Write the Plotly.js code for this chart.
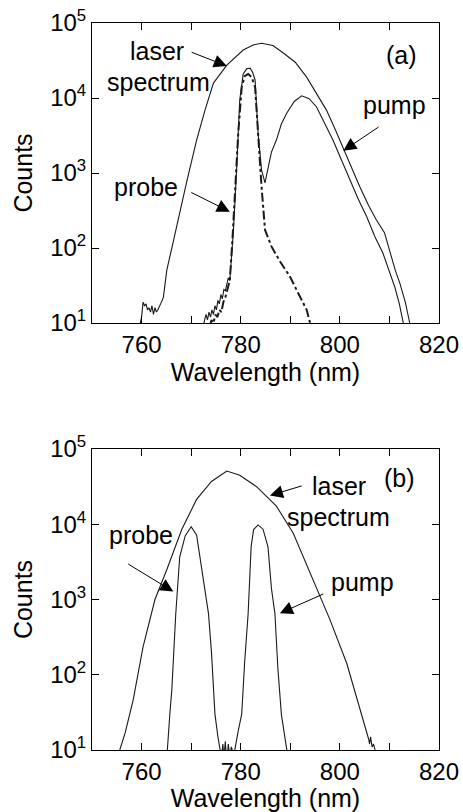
<!DOCTYPE html>
<html>
<head>
<meta charset="utf-8">
<script src="https://cdn.plot.ly/plotly-3.0.1.min.js"></script>
<style>html,body{margin:0;padding:0;background:#fff;}#chart{width:463px;height:812px;}</style>
</head>
<body>
<div id="chart"></div>
<script>
// ---------- Panel (a) ----------
const laserA_x = [759.6,760.0,760.3,760.6,760.9,761.2,761.5,761.8,762.1,762.4,762.7,763.0,763.3,763.6,764.0,764.4,765.1,766.1,767.6,769.1,771.1,772.8,774.5,777.2,780.5,782.5,784.2,786.5,788.6,791.0,793.3,795.3,797.3,799.0,800.7,802.4,804.0,805.8,807.4,809.0,810.1,811.2,812.1,813.2,814.1,814.5];
const laserA_y = [9,12,19,17,18,15,16,14,17,13,16,14,15,17,19,22,51,100,280,760,2750,6900,15800,27500,43600,51000,53700,50000,39800,30000,19000,11500,6900,3900,2140,1150,660,370,234,160,90,50,34,19,10,8];

const pumpA_x = [772.4,772.7,773.0,773.3,773.6,773.9,774.2,774.5,774.8,775.1,775.4,775.7,776.0,776.3,776.6,776.9,777.2,777.5,777.8,778.2,778.5,779.2,779.8,780.5,781.2,781.9,782.4,782.9,783.5,784.2,784.9,785.5,786.2,787.2,788.2,789.3,790.8,792.3,793.8,795.3,797.0,798.6,800.3,802.0,803.7,805.4,807.1,808.7,810.0,811.1,812.0,812.8,813.1];
const pumpA_y = [9,11,13,11,14,12,15,13,17,15,20,18,24,21,28,27,33,40,37,80,160,1200,9300,21000,24500,25000,22000,17400,3400,1100,740,1150,1900,2750,4500,6300,9000,10700,9800,7600,4500,2750,1500,810,450,263,140,85,50,30,18,10,8];

const probeA_x = [773.8,774.1,774.5,774.9,775.3,775.7,776.1,776.5,776.9,777.3,777.8,778.3,778.8,779.5,780.2,780.8,781.5,782.2,782.9,783.5,784.2,784.9,786.2,788.0,789.9,791.6,793.3,794.0,794.2];
const probeA_y = [9,11,10,13,12,15,14,19,22,28,37,120,440,3400,14000,19500,20900,19000,14000,3200,660,175,105,65,42,25,15,10,9];

// ---------- Panel (b) ----------
const laserB_x = [755.3,755.6,756.7,758.3,760.3,762.7,765.1,768.1,771.1,774.1,777.2,779.8,783.2,787.2,790.6,794.6,798.0,801.4,804.0,805.4,805.8,806.0,806.2,806.5,806.8,807.1,807.4];
const laserB_y = [9,10,17,46,234,1000,2500,8500,21400,37000,51000,44700,31600,17400,7600,1800,540,141,37,18,14,12,15,11,12,10,9];

const probeB_x = [765.0,765.2,765.7,766.1,766.9,767.7,768.8,770.0,771.1,772.1,773.5,774.1,774.8,775.4,775.8,776.1,776.4,776.6,776.9,777.1];
const probeB_y = [9,10,30,63,650,3700,7000,9300,7200,2800,650,200,30,15,10,8,12,8,13,8];

const pumpB_x = [777.3,777.5,777.8,778.1,778.5,778.8,779.5,780.2,780.8,781.5,782.1,782.6,783.5,784.5,785.5,786.2,786.9,787.5,788.2,788.8,789.3,789.6];
const pumpB_y = [8,12,8,11,9,10,18,30,150,650,5000,8500,9800,8600,5000,1400,650,120,30,15,10,9];

// ticks
const xTickVals = [760, 780, 800, 820];
const xTickText = ['760', '780', '800', '820'];
const xMinorVals = [750, 770, 790, 810];
const yTickVals = [10, 100, 1000, 10000, 100000];
const yTickText = ['10<sup>1</sup>', '10<sup>2</sup>', '10<sup>3</sup>', '10<sup>4</sup>', '10<sup>5</sup>'];

const LINE = '#1a1a1a';
const FONT = 'Liberation Sans, Arial, sans-serif';

function tr(x, y, xa, ya, dash, w) {
  return {x: x, y: y, xaxis: xa, yaxis: ya, type: 'scatter', mode: 'lines',
    line: {color: LINE, width: w || 1.1, dash: dash || 'solid'}, hoverinfo: 'skip', showlegend: false, cliponaxis: true};
}

const data = [
  tr(laserA_x, laserA_y, 'x', 'y'),
  tr(pumpA_x, pumpA_y, 'x', 'y'),
  tr(probeA_x, probeA_y, 'x', 'y', 'dashdot', 2),
  tr(laserB_x, laserB_y, 'x2', 'y2'),
  tr(probeB_x, probeB_y, 'x2', 'y2'),
  tr(pumpB_x, pumpB_y, 'x2', 'y2')
];

function xax(anchor) {
  return {
    anchor: anchor, range: [750, 820], showgrid: false, zeroline: false,
    showline: true, linecolor: '#000', linewidth: 1, mirror: 'allticks',
    ticks: 'inside', ticklen: 7, tickcolor: '#000', tickwidth: 1,
    tickvals: xTickVals, ticktext: xTickText,
    minor: {tickvals: xMinorVals, ticks: 'inside', ticklen: 7, tickcolor: '#000', showgrid: false},
    tickfont: {family: FONT, size: 24, color: '#000'},
    title: {text: 'Wavelength (nm)', font: {family: FONT, size: 25, color: '#000'}, standoff: 2}
  };
}
function yax(anchor, domain) {
  return {
    anchor: anchor, domain: domain, type: 'log', range: [1, 5], showgrid: false, zeroline: false,
    showline: true, linecolor: '#000', linewidth: 1, mirror: 'allticks',
    ticks: 'inside', ticklen: 7, tickcolor: '#000', tickwidth: 1,
    tickvals: yTickVals, ticktext: yTickText,
    tickfont: {family: FONT, size: 24, color: '#000'},
    title: {text: 'Counts', font: {family: FONT, size: 25, color: '#000'}, standoff: 10}
  };
}

const AF = {family: FONT, size: 25, color: '#000'};
function txt(t, x, y, xr, yr) {
  return {text: t, x: x, y: y, xref: xr, yref: yr, showarrow: false, font: AF, xanchor: 'center', yanchor: 'middle'};
}
function arr(x, y, ax, ay, xr, yr) {
  return {text: '', x: x, y: y, xref: xr, yref: yr, showarrow: true, ax: ax, ay: ay,
    arrowhead: 2, arrowsize: 2.6, arrowwidth: 1, arrowcolor: '#000', standoff: 0, startstandoff: 0};
}

const annotations = [
  txt('laser', 763.2, 4.627, 'x', 'y'),
  txt('spectrum', 763.5, 4.213, 'x', 'y'),
  txt('(a)', 812.5, 4.573, 'x', 'y'),
  txt('pump', 811.1, 3.907, 'x', 'y'),
  txt('probe', 760.9, 2.813, 'x', 'y'),
  arr(777.2, 4.427, -36.7, -14.3, 'x', 'y'),
  arr(800.7, 3.297, 36.7, -24.7, 'x', 'y'),
  arr(777.8, 2.484, -40, -20, 'x', 'y'),

  txt('laser', 799.8, 4.507, 'x2', 'y2'),
  txt('spectrum', 799.8, 4.093, 'x2', 'y2'),
  txt('(b)', 812.1, 4.613, 'x2', 'y2'),
  txt('probe', 759.9, 3.853, 'x2', 'y2'),
  txt('pump', 804.5, 3.227, 'x2', 'y2'),
  arr(785.9, 4.383, 33.3, -10, 'x2', 'y2'),
  arr(766.4, 3.107, -46.6, -28.3, 'x2', 'y2'),
  arr(787.9, 2.817, 45, -20, 'x2', 'y2')
];

const layout = {
  width: 463, height: 812,
  margin: {l: 92, r: 24, t: 23, b: 62},
  paper_bgcolor: '#fff', plot_bgcolor: '#fff',
  font: {family: FONT, color: '#000'},
  showlegend: false,
  xaxis: xax('y'),
  yaxis: yax('x', [0.5873, 1]),
  xaxis2: xax('y2'),
  yaxis2: yax('x2', [0, 0.414]),
  annotations: annotations
};

Plotly.newPlot('chart', data, layout, {displayModeBar: false, staticPlot: true});
</script>
</body>
</html>
